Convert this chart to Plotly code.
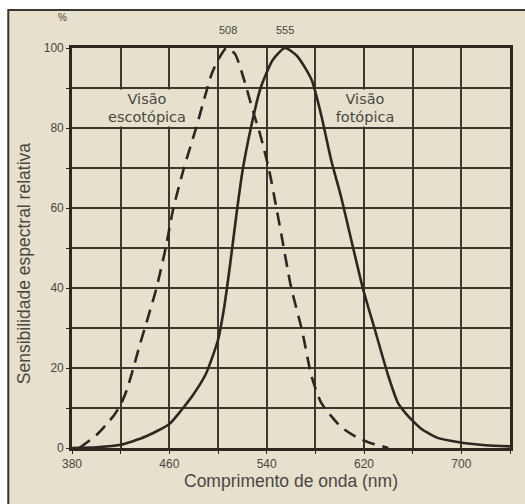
import plotly.graph_objects as go

# Photopic (solid) curve
phot_nm = [380, 400, 420, 440, 460, 470, 480, 490, 500, 505, 510, 515, 520, 527, 535, 545, 555,
           565, 577, 585, 593, 601, 608, 619, 629, 640, 648, 655, 660, 667, 680, 697, 720, 740]
phot_val = [0, 0.2, 0.8, 2.8, 6, 9.5, 13.5, 18.5, 27, 35, 46, 58, 69, 80, 90, 97, 100,
            98, 92, 83, 72, 63, 54, 40, 29.5, 18, 11.2, 8.4, 6.8, 4.8, 2.6, 1.5, 0.7, 0.4]

# Scotopic (dashed) curve
scot_nm = [386, 400, 410, 415, 420, 425, 430, 435, 449, 457, 463, 472, 482, 495, 501, 507, 514,
           521, 529, 535, 542, 548, 552, 560, 569, 577, 585, 601, 615, 624, 640]
scot_val = [0, 3.2, 6.5, 8.4, 10.8, 14.5, 19.5, 25, 39.5, 50, 59.5, 70, 80, 93.7, 97.5, 100, 98.5,
            92.5, 84, 78, 69.5, 60, 53.5, 40.3, 29.5, 17.8, 11.2, 5.3, 2.5, 1.4, 0]

x_tickvals = [380, 420, 460, 500, 540, 580, 620, 660, 700, 740]
x_ticktext = ["380", "", "460", "", "540", "", "620", "", "700", ""]
y_tickvals = [0, 10, 20, 30, 40, 50, 60, 70, 80, 90, 100]
y_ticktext = ["0", "", "20", "", "40", "", "60", "", "80", "", "100"]

peak_nm = [508, 555]
peak_text = ["508", "555"]

BEIGE = "#e6e0cd"
INK = "#2b2822"
TXT = "#4a4740"
FONT = "Liberation Sans, Arial, sans-serif"
FONT2 = "DejaVu Sans, Liberation Sans, sans-serif"

L, R, T, B = 72, 13, 48, 56
PW, PH = 525 - L - R, 504 - T - B


def px(xp):
    return (xp - L) / PW


def py(yp):
    return (504 - B - yp) / PH


fig = go.Figure()
fig.add_trace(go.Scatter(x=phot_nm, y=phot_val, mode="lines",
                         line=dict(color=INK, width=2.6, shape="spline", smoothing=0.6),
                         hoverinfo="skip", showlegend=False))
fig.add_trace(go.Scatter(x=scot_nm, y=scot_val, mode="lines",
                         line=dict(color=INK, width=2.6, dash="13px,8px", shape="spline", smoothing=0.6),
                         hoverinfo="skip", showlegend=False))

axis_common = dict(showgrid=True, gridcolor="#3d3829", gridwidth=2, zeroline=False,
                   showline=True, linecolor=INK, linewidth=2.6, mirror=True,
                   ticks="outside", ticklen=3, tickcolor=INK, tickwidth=1,
                   tickfont=dict(family=FONT, size=12, color=TXT))

fig.update_xaxes(range=[380, 740], tickmode="array", tickvals=x_tickvals, ticktext=x_ticktext,
                 title=dict(text="Comprimento de onda (nm)", font=dict(family=FONT, size=17.5, color=TXT),
                            standoff=4), **axis_common)
fig.update_yaxes(range=[0, 100], tickmode="array", tickvals=y_tickvals, ticktext=y_ticktext,
                 **axis_common)

# background frame
fig.add_shape(type="rect", xref="paper", yref="paper", layer="below",
              x0=px(8), x1=px(540), y0=py(520), y1=py(10),
              fillcolor=BEIGE, line=dict(color="#3a3630", width=2))

annots = [
    dict(x=px(24), y=py(263), xref="paper", yref="paper", text="Sensibilidade espectral relativa",
         textangle=-90, showarrow=False, font=dict(family=FONT, size=17.5, color=TXT),
         xanchor="center", yanchor="middle"),
    dict(x=442, y=85.1, xref="x", yref="y", text="Visão<br>escotópica", showarrow=False,
         font=dict(family=FONT2, size=14.5, color=TXT), bgcolor=BEIGE, borderpad=0,
         width=88, height=36, yanchor="middle", xanchor="center"),
    dict(x=620.8, y=85.1, xref="x", yref="y", text="Visão<br>fotópica", showarrow=False,
         font=dict(family=FONT2, size=14.5, color=TXT), bgcolor=BEIGE, borderpad=0,
         width=68, height=36, yanchor="middle", xanchor="center"),
    dict(x=px(62), y=py(17), xref="paper", yref="paper", text="%", showarrow=False,
         font=dict(family=FONT, size=10, color=TXT), yanchor="middle", xanchor="center"),
]
for n, t in zip(peak_nm, peak_text):
    annots.append(dict(x=n, y=py(30), xref="x", yref="paper", text=t, showarrow=False,
                       font=dict(family=FONT, size=11, color=TXT), yanchor="middle", xanchor="center"))
fig.update_layout(annotations=annots)

fig.update_layout(width=525, height=504, margin=dict(l=L, r=R, t=T, b=B),
                  paper_bgcolor="white", plot_bgcolor=BEIGE)

fig.write_html("out.html")
